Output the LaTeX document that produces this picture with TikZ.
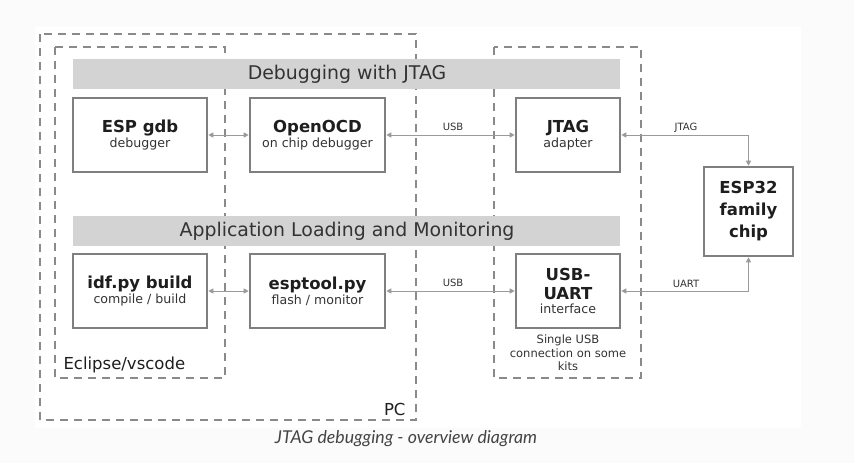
\documentclass[tikz,border=0pt]{standalone}
\usepackage{fontspec}
\setmainfont{DejaVu Sans}
\newfontfamily\capfont{Lato}
\usetikzlibrary{arrows.meta}
\definecolor{bordergray}{HTML}{7F7F7F}
\definecolor{dashgray}{HTML}{8A8A8A}
\definecolor{bargray}{HTML}{D3D3D3}
\definecolor{linegray}{HTML}{9A9A9A}
\definecolor{txt}{HTML}{1E1E1E}
\definecolor{subtxt}{HTML}{333333}
\definecolor{captxt}{HTML}{444444}
\definecolor{pagebg}{HTML}{FBFBFB}
\tikzset{
  x=1pt, y=-1pt,
  box/.style={draw=bordergray, line width=2.6pt, fill=white, inner sep=0pt, align=center, text=txt},
  groupbox/.style={draw=dashgray, line width=1.8pt, dash pattern=on 8pt off 6pt},
  bar/.style={fill=bargray, draw=none},
  bartext/.style={font=\fontsize{18.9}{20}\selectfont, text=subtxt},
  conn/.style={draw=linegray, line width=0.9pt, {Triangle[length=5pt,width=5pt]}-{Triangle[length=5pt,width=5pt]}},
  lbl/.style={font=\fontsize{10}{12}\selectfont, text=subtxt},
}
\newcommand{\ttl}[1]{{\fontsize{16.5}{20}\selectfont\bfseries #1}}
\newcommand{\sub}[1]{{\fontsize{12.6}{15}\selectfont\color{subtxt} #1}}
\begin{document}
\begin{tikzpicture}
\useasboundingbox (0,0) rectangle (854,463);
\fill[pagebg] (0,0) rectangle (854,463);
\fill[white] (35,27) rectangle (801,428);
% group boxes
\draw[groupbox] (40,34) rectangle (416,420);
\draw[groupbox] (55,47) rectangle (225,378);
\draw[groupbox] (494,47) rectangle (641,378);
% bars
\fill[bar] (73,59) rectangle (620,89);
\fill[bar] (73,216) rectangle (620,246);
\node[bartext] (bar1) at (347,74) {Debugging with JTAG};
\node[bartext] (bar2) at (347,231) {Application Loading and Monitoring};
% boxes
\node[box, minimum width=134pt, minimum height=74pt] (gdb) at (140,135) {\ttl{ESP gdb}\\[1pt]\sub{debugger}};
\node[box, minimum width=135pt, minimum height=74pt] (ocd) at (317.5,135) {\ttl{OpenOCD}\\[1pt]\sub{on chip debugger}};
\node[box, minimum width=104pt, minimum height=74pt] (jtag) at (568,135) {\ttl{JTAG}\\[1pt]\sub{adapter}};
\node[box, minimum width=134pt, minimum height=74pt] (idf) at (140,291) {\ttl{idf.py build}\\[1pt]\sub{compile / build}};
\node[box, minimum width=135pt, minimum height=74pt] (esptool) at (317.5,291) {\ttl{esptool.py}\\[1pt]\sub{flash / monitor}};
\node[box, minimum width=104pt, minimum height=74pt] (uart) at (568,291) {\ttl{USB-}\\[6pt]\ttl{UART}\\[2pt]\sub{interface}};
\node[box, minimum width=89pt, minimum height=89pt, font=\fontsize{16.5}{22}\selectfont\bfseries] (chip) at (748.5,211.5) {ESP32\\family\\chip};
% connectors
\draw[conn] (gdb.east) -- (ocd.west);
\draw[conn] (ocd.east) -- node[lbl, above=1pt, pos=0.52] {USB} (jtag.west);
\draw[conn] (idf.east) -- (esptool.west);
\draw[conn] (esptool.east) -- node[lbl, above=1pt, pos=0.52] {USB} (uart.west);
\coordinate (jc) at (chip.north |- jtag.east);
\coordinate (uc) at (chip.south |- uart.east);
\draw[conn] (jtag.east) -- (jc) -- (chip.north);
\draw[conn] (uart.east) -- (uc) -- (chip.south);
\node[lbl] (jl) at (686,128) {JTAG};
\node[lbl] (ul) at (686,284) {UART};
% notes
\node[font=\fontsize{11.5}{13.5}\selectfont, text=subtxt, align=center] (note) at (568,353) {Single USB\\connection on some\\kits};
\node[font=\fontsize{16.5}{20}\selectfont, text=txt, anchor=west] (ecl) at (60,365) {Eclipse/vscode};
\node[font=\fontsize{16.5}{20}\selectfont, text=txt, anchor=east] (pc) at (409,409) {PC};
\node[font=\capfont\itshape\fontsize{17.7}{20}\selectfont, text=captxt] (cap) at (406,439) {JTAG debugging - overview diagram};
\end{tikzpicture}
\end{document}
